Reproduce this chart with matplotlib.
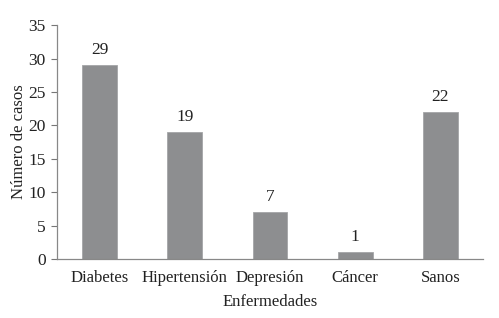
import matplotlib
matplotlib.use("Agg")
import matplotlib.pyplot as plt

categories = ["Diabetes", "Hipertensión", "Depresión", "Cáncer", "Sanos"]
values = [29, 19, 7, 1, 22]
yticks = [0, 5, 10, 15, 20, 25, 30, 35]

plt.rcParams['font.family'] = ['Liberation Serif', 'DejaVu Serif']

fig = plt.figure(figsize=(4.99, 3.18), dpi=100)
ax = fig.add_axes([0.1142, 0.1855, 0.8538, 0.7355])

x = range(len(categories))
bars = ax.bar(x, values, width=0.41, color="#8d8e90", edgecolor="#a4a5a7", linewidth=0.6)
for xi, v in zip(x, values):
    ax.annotate(str(v), (xi, v), xytext=(0, 5), textcoords="offset points",
                ha="center", va="bottom", fontsize=12.5, color="#222222")

ax.set_xlim(-0.5, 4.5)
ax.set_ylim(0, 35)
ax.set_yticks(yticks)
ax.set_xticks(list(x))
ax.set_xticklabels(categories)
ax.tick_params(axis="x", length=0, pad=8, labelsize=12, colors="#222222")
ax.tick_params(axis="y", length=4, width=0.8, color="#777777", pad=4, labelsize=12.5, labelcolor="#222222")
for s in ["top", "right"]:
    ax.spines[s].set_visible(False)
for s in ["left", "bottom"]:
    ax.spines[s].set_color("#888888")
    ax.spines[s].set_linewidth(0.9)

ax.set_xlabel("Enfermedades", fontsize=12, color="#222222", labelpad=6)
ax.set_ylabel("Número de casos", fontsize=12, color="#222222", labelpad=1)

fig.savefig("out.png", dpi=100)
